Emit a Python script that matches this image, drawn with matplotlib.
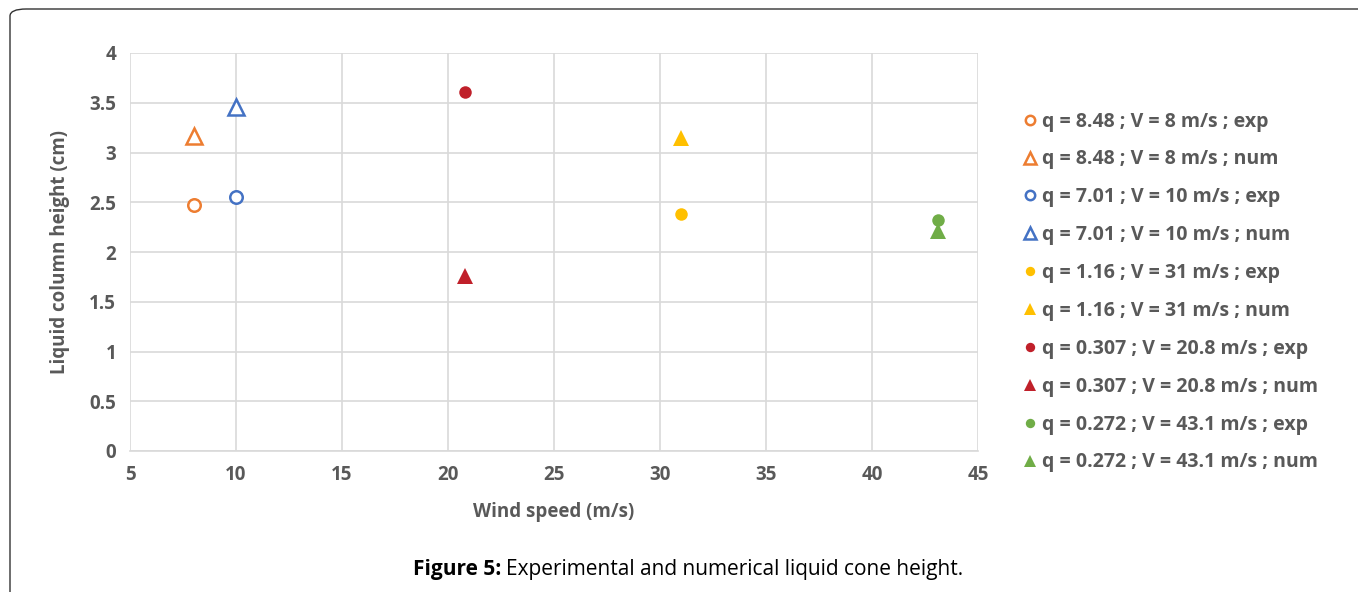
import matplotlib
matplotlib.use("Agg")
import matplotlib.pyplot as plt
from matplotlib.patches import FancyBboxPatch

plt.rcParams['font.family'] = ['Open Sans', 'DejaVu Sans']

labels = [
    "q = 8.48 ; V = 8 m/s ; exp",
    "q = 8.48 ; V = 8 m/s ; num",
    "q = 7.01 ; V = 10 m/s ; exp",
    "q = 7.01 ; V = 10 m/s ; num",
    "q = 1.16 ; V = 31 m/s ; exp",
    "q = 1.16 ; V = 31 m/s ; num",
    "q = 0.307 ; V = 20.8 m/s ; exp",
    "q = 0.307 ; V = 20.8 m/s ; num",
    "q = 0.272 ; V = 43.1 m/s ; exp",
    "q = 0.272 ; V = 43.1 m/s ; num",
]
wind_speed = [8, 8, 10, 10, 31, 31, 20.8, 20.8, 43.1, 43.1]
height = [2.47, 3.17, 2.55, 3.46, 2.38, 3.15, 3.61, 1.76, 2.32, 2.21]
colors = ["#ED7D31", "#ED7D31", "#4472C4", "#4472C4", "#FFC000", "#FFC000",
          "#C0202A", "#C0202A", "#70AD47", "#70AD47"]
markers = ["o", "^", "o", "^", "o", "^", "o", "^", "o", "^"]
filled = [False, False, False, False, True, True, True, True, True, True]

xticks = [5, 10, 15, 20, 25, 30, 35, 40, 45]
yticks = [0, 0.5, 1, 1.5, 2, 2.5, 3, 3.5, 4]
ytick_labels = ["0", "0.5", "1", "1.5", "2", "2.5", "3", "3.5", "4"]

W, H = 1358, 592
fig = plt.figure(figsize=(W / 100, H / 100), dpi=100)
ax = fig.add_axes([130 / W, 1 - 451 / H, (978 - 130) / W, (451 - 53) / H])

for x, y, c, m, f, lab in zip(wind_speed, height, colors, markers, filled, labels):
    ms = 9 if m == "o" else 12
    ax.plot([x], [y], linestyle="none", marker=m, markersize=ms,
            markerfacecolor=(c if f else "white"), markeredgecolor=c,
            markeredgewidth=(1.8 if not f else 0), label=lab, zorder=3)

ax.set_xlim(5, 45)
ax.set_ylim(0, 4)
ax.set_xticks(xticks)
ax.set_yticks(yticks)
ax.set_yticklabels(ytick_labels)
ax.grid(True, color="#d9d9d9", linewidth=1.2, zorder=0)
ax.set_axisbelow(True)
for s in ["top", "right", "left"]:
    ax.spines[s].set_visible(False)
ax.spines["bottom"].set_color("#d9d9d9")
ax.spines["bottom"].set_linewidth(1.2)
ax.tick_params(length=0, labelsize=13.5, labelcolor="#595959", pad=10)
for t in ax.get_xticklabels() + ax.get_yticklabels():
    t.set_fontweight("bold")

ax.set_xlabel("Wind speed (m/s)", fontsize=13.5, fontweight="bold", color="#595959", labelpad=12)
ax.set_ylabel("Liquid column height (cm)", fontsize=13.5, fontweight="bold", color="#595959", labelpad=14)

leg = fig.legend(loc="upper left", bbox_to_anchor=(1003 / W, 1 - 94 / H),
                 frameon=False, fontsize=14, handletextpad=0.1, labelspacing=0.92,
                 handlelength=1.0, markerscale=0.75)
for t in leg.get_texts():
    t.set_color("#595959")
    t.set_fontweight("bold")

# caption: bold part then normal part
t1 = fig.text(413 / W, 1 - 569 / H, "Figure 5:", fontsize=15, fontweight="bold",
              ha="left", va="center")
fig.canvas.draw()
bb = t1.get_window_extent()
fig.text((bb.x1 + 5) / W, 1 - 569 / H, "Experimental and numerical liquid cone height.",
         fontsize=15, ha="left", va="center")

border = FancyBboxPatch((10 / W, -0.05), 1.2, 1 - 9 / H + 0.05,
                        boxstyle="round,pad=0,rounding_size=0.012",
                        transform=fig.transFigure, fill=False,
                        edgecolor="#333333", linewidth=1.0)
fig.patches.append(border)

fig.savefig("out.png", dpi=100)
